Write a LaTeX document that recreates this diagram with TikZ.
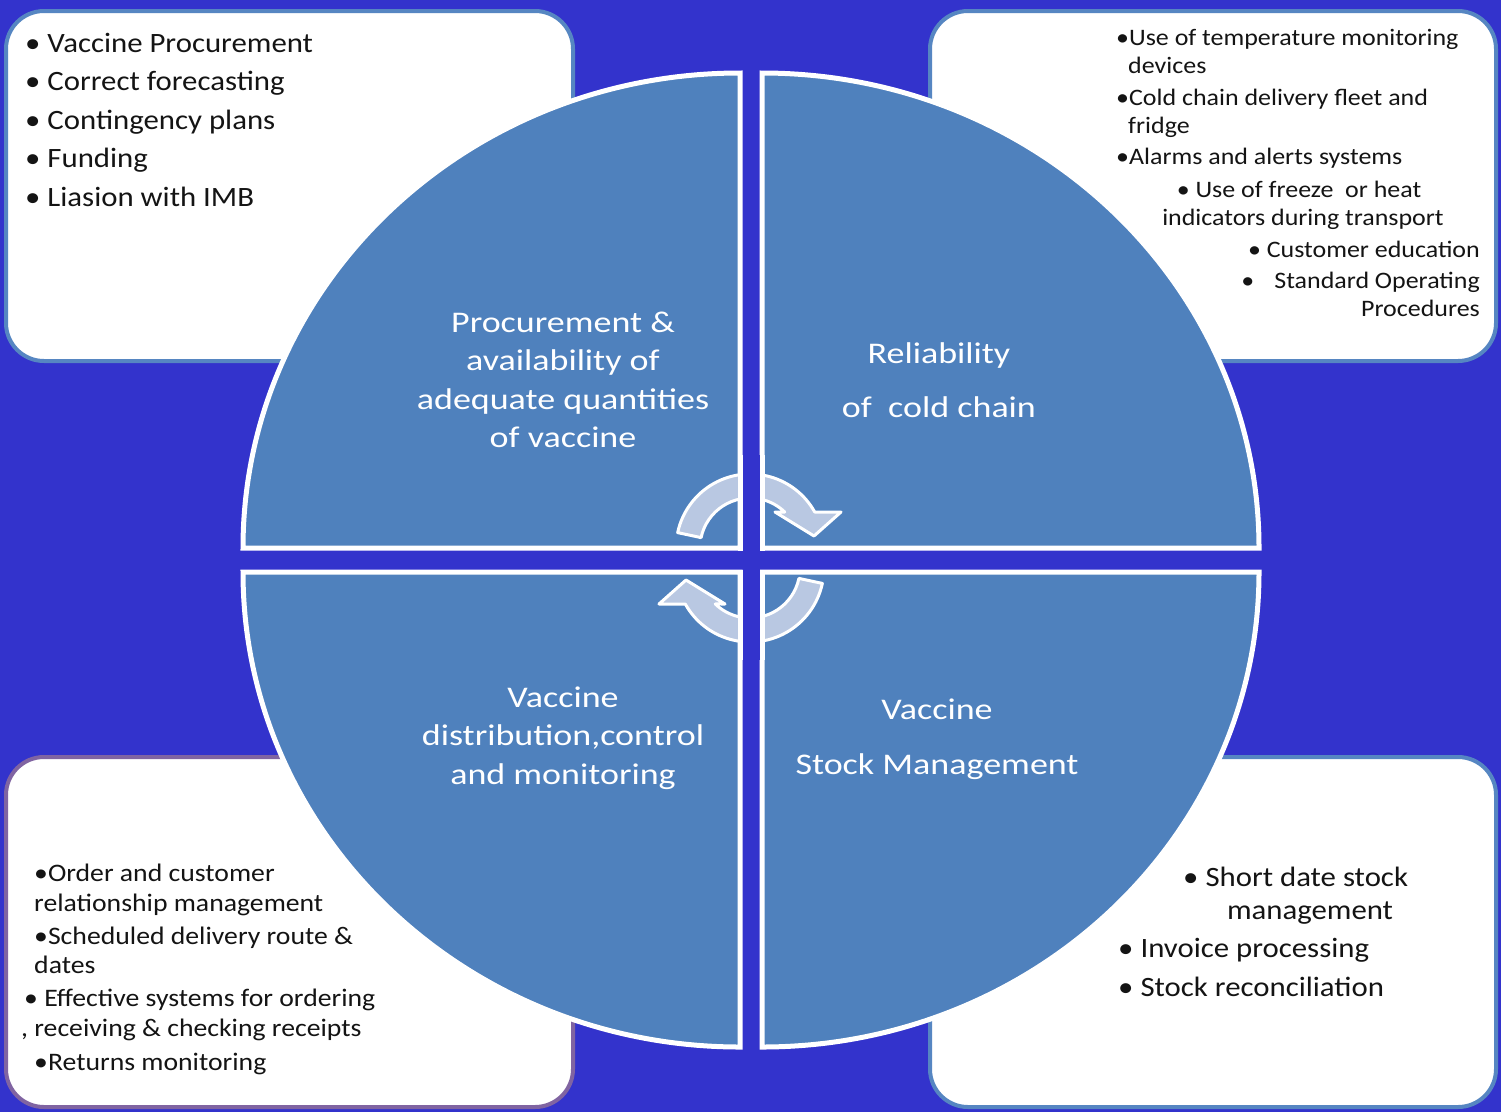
\documentclass[tikz,border=0pt]{standalone}
\usepackage{fontspec}
\setmainfont[FakeStretch=1.1]{Carlito}
\newfontfamily\quadfont[FakeStretch=1.2]{Carlito}
\definecolor{bgblue}{RGB}{51,51,204}
\definecolor{quadblue}{RGB}{79,129,189}
\definecolor{arrowfill}{RGB}{185,200,226}
\definecolor{boxblue}{RGB}{86,134,194}
\definecolor{boxpurple}{RGB}{128,100,162}
\definecolor{listink}{RGB}{20,20,20}

\begin{document}
\begin{tikzpicture}[x=1pt,y=-1pt,
  infobox/.style = {fill=white, draw=boxblue, line width=4, rounded corners=38},
  quad/.style = {fill=quadblue, draw=white, line width=5},
  cyclearrow/.style = {fill=arrowfill, draw=white, line width=3, line join=round},
  quadlabel/.style = {text=white, align=center, inner sep=0,
                      font=\quadfont\fontsize{30}{38.5}\selectfont},
  bigitem/.style = {text=listink, inner sep=0, font=\fontsize{28}{34}\selectfont},
  smallitem/.style = {text=listink, inner sep=0, font=\fontsize{23.6}{28}\selectfont},
  miditem/.style = {text=listink, inner sep=0, font=\fontsize{25.2}{30}\selectfont}]
\useasboundingbox (0,0) rectangle (1501,1112);
\fill[bgblue] (0,0) rectangle (1501,1112);

% corner boxes
\draw[infobox] (6,11) rectangle (573,361);
\draw[infobox] (930,11) rectangle (1496,361);
\draw[infobox, draw=boxpurple] (6,757) rectangle (573,1107);
\draw[infobox] (930,757) rectangle (1496,1107);

% four quarters
\draw[quad] (740,548) -- (243,548) arc[start angle=180, end angle=270, x radius=497, y radius=475] -- cycle;
\draw[quad] (762,548) -- (762,73) arc[start angle=270, end angle=360, x radius=497, y radius=475] -- cycle;
\draw[quad] (740,572) -- (740,1047) arc[start angle=90, end angle=180, x radius=497, y radius=475] -- cycle;
\draw[quad] (762,572) -- (1259,572) arc[start angle=0, end angle=90, x radius=497, y radius=475] -- cycle;

% cycle arrows
\draw[cyclearrow] (750,548) ++(192:50) arc[start angle=192, end angle=314, radius=50]
  -- (775,512) -- (814,536) -- (841,512) -- (814.7,512)
  arc[start angle=330.9, end angle=192, radius=74] -- cycle;
\draw[cyclearrow] (750,568) ++(12:50) arc[start angle=12, end angle=134, radius=50]
  -- (725,604) -- (686,580) -- (659,604) -- (685.3,604)
  arc[start angle=150.9, end angle=12, radius=74] -- cycle;

% gap over the arrows
\fill[white] (737.5,455) rectangle (764.5,550.5);
\fill[bgblue] (742.5,455) rectangle (759.5,556);
\fill[white] (737.5,569.5) rectangle (764.5,660);
\fill[bgblue] (742.5,562) rectangle (759.5,660);

% quarter labels
\node[quadlabel] (procure) at (563,380) {Procurement \&\\availability of\\adequate quantities\\of vaccine};
\node[quadlabel, font=\quadfont\fontsize{30}{54}\selectfont] (cold) at (939,380) {Reliability\\of\ \ cold chain};
\node[quadlabel] (distrib) at (563,738) {Vaccine\\distribution,control\\and monitoring};
\node[quadlabel, font=\quadfont\fontsize{30}{55}\selectfont] (stock) at (937,739) {Vaccine\\Stock Management};

% top left list
\node[bigitem, anchor=base west] (tl1) at (25,52) {• Vaccine Procurement};
\node[bigitem, anchor=base west] (tl2) at (25,90.5) {• Correct forecasting};
\node[bigitem, anchor=base west] (tl3) at (25,129) {• Contingency plans};
\node[bigitem, anchor=base west] (tl4) at (25,167.5) {• Funding};
\node[bigitem, anchor=base west] (tl5) at (25,206) {• Liasion with IMB};

% top right list
\node[smallitem, anchor=base west] (tr1) at (1116,45) {•Use of temperature monitoring};
\node[smallitem, anchor=base west] (tr2) at (1128,73) {devices};
\node[smallitem, anchor=base west] (tr3) at (1116,105) {•Cold chain delivery fleet and};
\node[smallitem, anchor=base west] (tr4) at (1128,133) {fridge};
\node[smallitem, anchor=base west] (tr5) at (1116,164) {•Alarms and alerts systems};
\node[smallitem, anchor=base] (tr6) at (1299,197) {• Use of freeze\ \ or heat};
\node[smallitem, anchor=base] (tr7) at (1303,225) {indicators during transport};
\node[smallitem, anchor=base east] (tr8) at (1480,257) {• Customer education};
\node[smallitem, anchor=base east] (tr9) at (1480,288) {•\hspace{20pt}Standard Operating};
\node[smallitem, anchor=base east] (tr10) at (1480,316) {Procedures};

% bottom left list
\node[miditem, anchor=base west] (bl1) at (34,881) {•Order and customer};
\node[miditem, anchor=base west] (bl2) at (34,911) {relationship management};
\node[miditem, anchor=base west] (bl3) at (34,944) {•Scheduled delivery route \&};
\node[miditem, anchor=base west] (bl4) at (34,973) {dates};
\node[miditem, anchor=base west] (bl5) at (24,1006) {• Effective systems for ordering};
\node[miditem, anchor=base west] (bl6) at (21,1036) {, receiving \& checking receipts};
\node[miditem, anchor=base west] (bl7) at (34,1070) {•Returns monitoring};

% bottom right list
\node[bigitem, anchor=base west] (br1) at (1183,886) {• Short date stock};
\node[bigitem, anchor=base] (br2) at (1310,919) {management};
\node[bigitem, anchor=base west] (br3) at (1118,957) {• Invoice processing};
\node[bigitem, anchor=base west] (br4) at (1118,996) {• Stock reconciliation};
\end{tikzpicture}
\end{document}
